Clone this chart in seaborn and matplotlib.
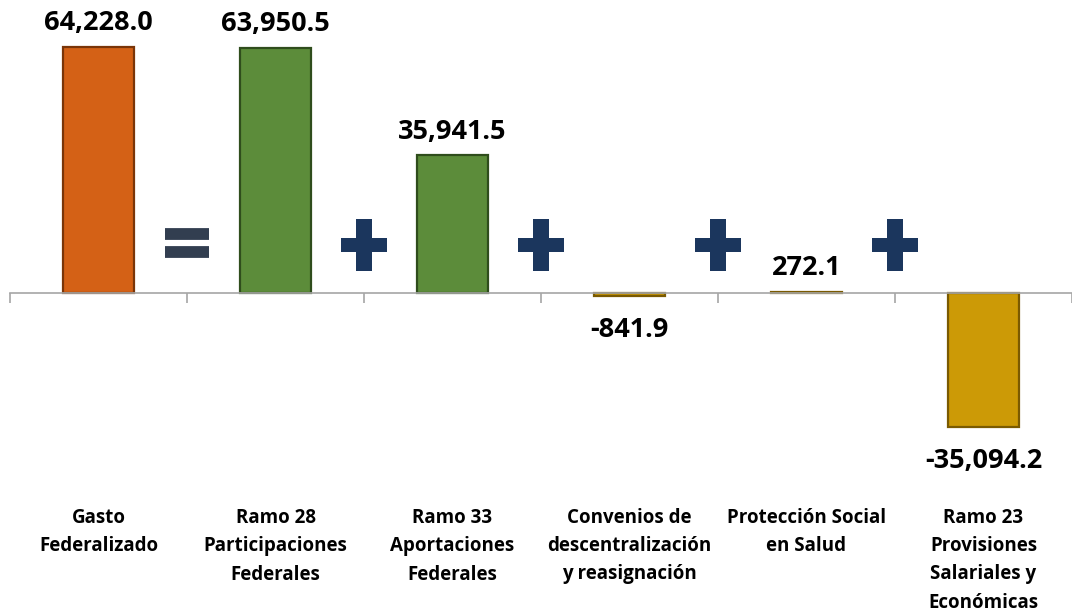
import matplotlib
matplotlib.use("Agg")
import matplotlib.pyplot as plt
import matplotlib.transforms as mtransforms
import numpy as np
import pandas as pd
import seaborn as sns

# datos (millones de pesos)
categories = [
    "Gasto\nFederalizado",
    "Ramo 28\nParticipaciones\nFederales",
    "Ramo 33\nAportaciones\nFederales",
    "Convenios de\ndescentralización\ny reasignación",
    "Protección Social\nen Salud",
    "Ramo 23\nProvisiones\nSalariales y\nEconómicas",
]
values = [64228.0, 63950.5, 35941.5, -841.9, 272.1, -35094.2]
bar_colors = ["#D46116", "#5C8C3A", "#5C8C3A", "#CC9A06", "#CC9A06", "#CC9A06"]
edge_colors = ["#7A3508", "#2F4D1C", "#2F4D1C", "#7A5A00", "#7A5A00", "#7A5A00"]
operators = ["=", "+", "+", "+", "+"]

FONT = ["Open Sans", "DejaVu Sans"]

sns.set_theme(style="white")
plt.rcParams["font.family"] = FONT

df = pd.DataFrame({"cat": categories, "val": values})

fig = plt.figure(figsize=(10.72, 6.15), dpi=100)
ax = fig.add_axes([10 / 1072, 0, 1 - 10 / 1072, 1])

sns.barplot(
    data=df, x="cat", y="val", hue="cat", palette=bar_colors,
    width=0.4, legend=False, ax=ax, saturation=1,
)
for patch, ec in zip(ax.patches, edge_colors):
    patch.set_edgecolor(ec)
    patch.set_linewidth(1.6)

ax.set_xlim(-0.5, 5.5)
ax.set_ylim(-84070, 76500)

# eje horizontal en cero con marcas entre categorías
for side in ["top", "right", "left"]:
    ax.spines[side].set_visible(False)
ax.spines["bottom"].set_position(("data", 0))
ax.spines["bottom"].set_color("#A6A6A6")
ax.spines["bottom"].set_linewidth(1.2)
ax.set_xticks(np.arange(-0.5, 6, 1))
ax.set_xticklabels([])
ax.tick_params(axis="x", direction="out", length=7, width=1.2, color="#A6A6A6", bottom=True)
ax.set_yticks([])
ax.set_xlabel("")
ax.set_ylabel("")

# etiquetas de valor
for i, v in enumerate(values):
    offset = 17 if v >= 0 else -24
    ax.annotate(
        f"{v:,.1f}", xy=(i, v), xytext=(0, offset), textcoords="offset points",
        ha="center", va="center", fontsize=19.5, fontweight="bold", color="black",
    )

# nombres de categoría
trans = mtransforms.blended_transform_factory(ax.transData, ax.transAxes)
for i, name in enumerate(categories):
    ax.text(
        i, 1 - 508 / 615, name, transform=trans, ha="center", va="top",
        fontsize=13.5, fontweight="bold", color="black", linespacing=1.55,
    )

# signos entre barras: cruz gruesa, un poco más alta que ancha
plus_marker = [(-1, -0.3), (-1, 0.3), (-0.33, 0.3), (-0.33, 1.15), (0.33, 1.15), (0.33, 0.3),
               (1, 0.3), (1, -0.3), (0.33, -0.3), (0.33, -1.15), (-0.33, -1.15), (-0.33, -0.3)]
for i, op in enumerate(operators):
    xpos = i + 0.5
    if op == "=":
        ax.plot([xpos, xpos], [15400, 10700], linestyle="none", marker="_",
                ms=32, mew=8.5, color="#323E50")
    else:
        ax.plot([xpos], [12500], linestyle="none", marker=plus_marker,
                ms=38, mew=0, color="#1B365D")

fig.savefig("out.png", dpi=100)
